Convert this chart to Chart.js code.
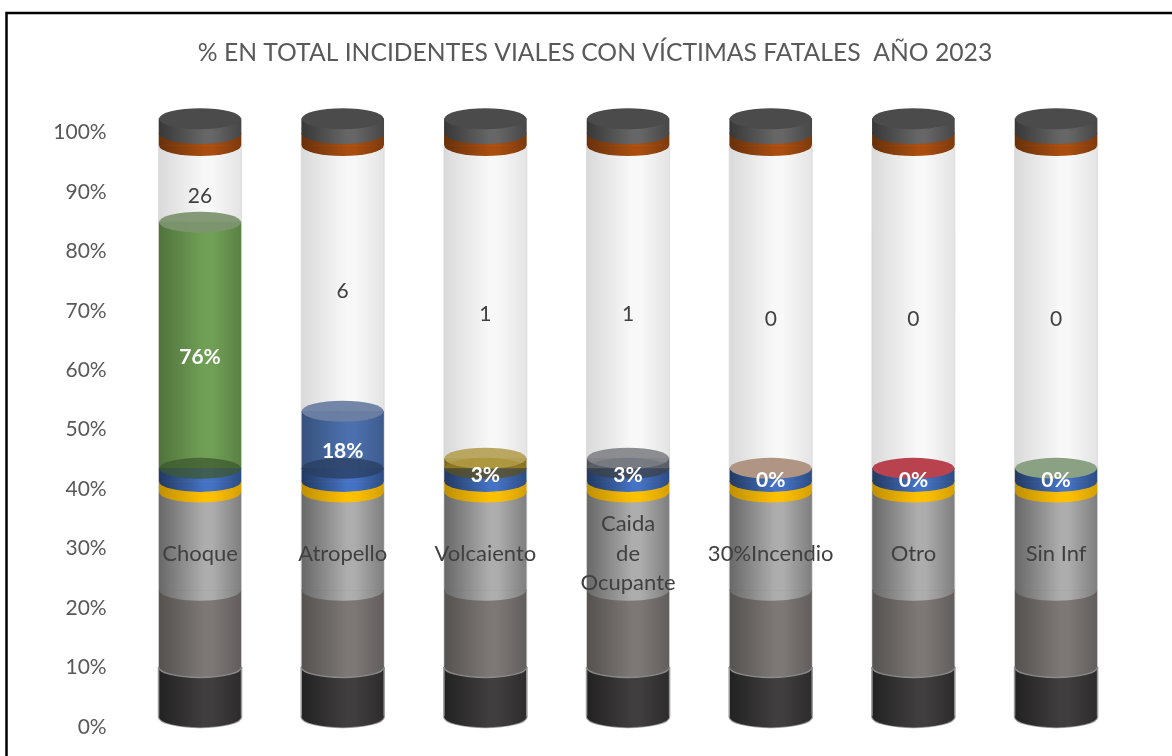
<!DOCTYPE html>
<html><head><meta charset="utf-8">
<style>html,body{margin:0;padding:0;background:#fff}#w{position:absolute;left:0;top:0;width:1172px;height:756px}</style>
<script src="https://cdn.jsdelivr.net/npm/chart.js@4/dist/chart.umd.min.js"></script>
</head><body><div id="w"><canvas id="c" width="1172" height="756"></canvas></div>
<script>
const categories = ["Choque","Atropello","Volcaiento",["Caida","de","Ocupante"],"30%Incendio","Otro","Sin Inf"];
const yTicks = [0,10,20,30,40,50,60,70,80,90,100];
const offsetBase = [1.7,1.7,1.7,1.7,1.7,1.7,1.7];
const band1 = [8.4,8.4,8.4,8.4,8.4,8.4,8.4];
const band2 = [12.9,12.9,12.9,12.9,12.9,12.9,12.9];
const band3 = [16.5,16.5,16.5,16.5,16.5,16.5,16.5];
const band4 = [1.8,1.8,1.8,1.8,1.8,1.8,1.8];
const band5 = [2.2,2.2,2.2,2.2,2.2,2.2,2.2];
const sharePlotted = [41.4,9.6,1.7,1.7,0,0,0];
const shareLabels = ["76%","18%","3%","3%","0%","0%","0%"];
const remainder = [12.9,44.7,52.6,52.6,54.3,54.3,54.3];
const remainderLabels = ["26","6","1","1","0","0","0"];
const capLow = [2,2,2,2,2,2,2];
const capHigh = [2.5,2.5,2.5,2.5,2.5,2.5,2.5];
const shareColors = ["#70a055","#4c70ad","#a98f2e","#6f747b","#ad9080","#b23c47","#86a07f"];
const shareTops = ["#7d9570","#6d7fa3","#b5a25a","#85878a","#b09484","#b8424d","#8aa184"];

const HALF = 41, RY = 10.5;
function mix(hex, f){
  const n = parseInt(hex.slice(1),16);
  const c = [(n>>16)&255,(n>>8)&255,n&255].map(v=>Math.round(v*f));
  return `rgb(${c[0]},${c[1]},${c[2]})`;
}
function grad(chart, x, col, lf){
  const g = chart.ctx.createLinearGradient(x-HALF,0,x+HALF,0);
  g.addColorStop(0, mix(col, lf));
  g.addColorStop(0.55, col);
  g.addColorStop(0.65, col);
  g.addColorStop(1, mix(col, (1+lf*2)/3));
  return g;
}
function fill(col, lf){
  return ctx => {
    if(!ctx.chart.chartArea || ctx.dataIndex===undefined) return col;
    const x = ctx.chart.scales.x.getPixelForValue(ctx.dataIndex);
    return grad(ctx.chart, x, col, lf);
  };
}
const specs = [
  {label:"Base",data:offsetBase,col:null},
  {label:"Banda 1",data:band1,col:"#403e3e",lf:.55},
  {label:"Banda 2",data:band2,col:"#7d7876",lf:.68},
  {label:"Banda 3",data:band3,col:"#adadad",lf:.6},
  {label:"Banda 4",data:band4,col:"#ffc000",lf:.75},
  {label:"Banda 5",data:band5,col:"#4472c4",lf:.5},
  {label:"%",data:sharePlotted,share:true},
  {label:"Total",data:remainder,col:"#f8f8f8",lf:.88},
  {label:"Tapa 1",data:capLow,col:"#a94e10",lf:.62},
  {label:"Tapa 2",data:capHigh,col:"#666666",lf:.55}
];
const datasets = specs.map(s=>({
  label:s.label,data:s.data,stack:"a",barThickness:82,borderWidth:0,
  backgroundColor: s.share ? (ctx=>{
      if(!ctx.chart.chartArea||ctx.dataIndex===undefined) return "#888";
      const i=ctx.dataIndex,x=ctx.chart.scales.x.getPixelForValue(i);
      return grad(ctx.chart,x,shareColors[i],.72);
    }) : (s.col ? fill(s.col,s.lf) : "rgba(0,0,0,0)")
}));
function ell(ctx,x,y,half,col,a0,a1){
  ctx.fillStyle=col;ctx.beginPath();ctx.ellipse(x,y,half,RY,0,a0,a1);ctx.closePath();ctx.fill();
}
function lip(ctx,x,y,col){
  ell(ctx,x,y,HALF,col,0,Math.PI);
  ctx.fillRect(x-HALF,y-1,HALF*2,1.5);
}
const cylinder = {
  id:"cylinder",
  afterLayout(chart){ chart.scales.y.left=0; },
  afterDatasetsDraw(chart){
    const ctx=chart.ctx;
    ctx.save();
    const metas=specs.map((s,i)=>chart.getDatasetMeta(i));
    const n=categories.length;
    for(let i=0;i<n;i++){
      const x=metas[1].data[i].x;
      const topEdge=metas[7].data[i].y, lowEdge=metas[1].data[i].y;
      ctx.strokeStyle="rgba(205,205,205,.6)";ctx.lineWidth=1;
      ctx.beginPath();ctx.moveTo(x-HALF-.5,topEdge);ctx.lineTo(x-HALF-.5,lowEdge);
      ctx.moveTo(x+HALF+.5,topEdge);ctx.lineTo(x+HALF+.5,lowEdge);ctx.stroke();
      [1,2,3,4,5].forEach(k=>{
        const e=metas[k].data[i];
        if(k===1){
          ctx.strokeStyle="#9a9a9a";ctx.lineWidth=1.5;
          ctx.beginPath();ctx.ellipse(x,e.base,HALF+.5,RY,0,0,Math.PI);ctx.stroke();
          ctx.beginPath();ctx.moveTo(x-HALF-.5,e.base);ctx.lineTo(x-HALF-.5,e.y);ctx.moveTo(x+HALF+.5,e.base);ctx.lineTo(x+HALF+.5,e.y);ctx.stroke();
        }
        lip(ctx,x,e.base,grad(chart,x,specs[k].col,specs[k].lf));
        if(k===2){
          ctx.strokeStyle="#8a8a8a";ctx.lineWidth=1.5;
          ctx.beginPath();ctx.ellipse(x,e.base,HALF+.5,RY,0,0,Math.PI);ctx.stroke();
        }
      });
      const sh=metas[6].data[i];
      const blueTop=metas[5].data[i].y;
      if(sharePlotted[i]>0){
        ctx.globalAlpha=.75;
        ell(ctx,x,blueTop,HALF,mix(shareColors[i],.55),0,Math.PI*2);
        ctx.globalAlpha=.95;
        ell(ctx,x,sh.y,HALF,shareTops[i],0,Math.PI*2);
        ctx.globalAlpha=1;
        if(sharePlotted[i]<3){
          ctx.globalAlpha=.55;
          ell(ctx,x,blueTop,HALF,shareColors[i],Math.PI,Math.PI*2);
          ctx.globalAlpha=1;
        }
      }else{
        ell(ctx,x,blueTop,HALF,shareTops[i],0,Math.PI*2);
      }
      const c1=metas[8].data[i], c2=metas[9].data[i];
      lip(ctx,x,c1.base,grad(chart,x,"#a94e10",.62));
      lip(ctx,x,c2.base,grad(chart,x,"#666666",.55));
      ell(ctx,x,c2.y,HALF,"#4b4b4b",0,Math.PI*2);
      ctx.textAlign="center";ctx.textBaseline="middle";
      ctx.font='bold 21px Lato, sans-serif';ctx.fillStyle="#ffffff";
      ctx.fillText(shareLabels[i],x,(sh.y+sh.base)/2+11.5);
      const rm=metas[7].data[i];
      ctx.font='21px Lato, sans-serif';ctx.fillStyle="#404040";
      ctx.fillText(remainderLabels[i],x,(rm.y+rm.base)/2+12.5);
    }
    ctx.restore();
  }
};
const frame = {
  id:"frame",
  beforeDraw(chart){
    const ctx=chart.ctx;ctx.save();ctx.strokeStyle="#000";ctx.lineWidth=2.5;
    ctx.strokeRect(6.5,13,1180,800);ctx.restore();
  }
};
new Chart(document.getElementById("c"),{
  type:"bar",
  data:{labels:categories,datasets},
  plugins:[frame,cylinder],
  options:{
    responsive:false,animation:false,
    layout:{padding:{left:62.6,right:44.6,top:0,bottom:29}},
    plugins:{legend:{display:false},tooltip:{enabled:false},
      title:{display:true,text:"% EN TOTAL INCIDENTES VIALES CON VÍCTIMAS FATALES  AÑO 2023",color:"#595959",
        font:{family:"Lato, sans-serif",size:24.7,weight:"normal"},padding:{top:38,bottom:35}}},
    scales:{
      x:{stacked:true,position:{y:35.5},grid:{display:false},border:{display:false},
        afterFit(s){s.height=0;},
        ticks:{z:2,color:"#404040",font:{family:"Lato, sans-serif",size:22,lineHeight:1.35},maxRotation:0,autoSkip:false,padding:0,crossAlign:"center"}},
      y:{stacked:true,min:0,max:105,grid:{display:false},border:{display:false},
        afterFit(s){s.width=66.1;},
        afterBuildTicks(s){s.ticks=yTicks.map(v=>({value:v}));},
        ticks:{color:"#595959",font:{family:"Lato, sans-serif",size:21},padding:14,callback:v=>v+"%"}}
    }
  }
});
</script></body></html>
